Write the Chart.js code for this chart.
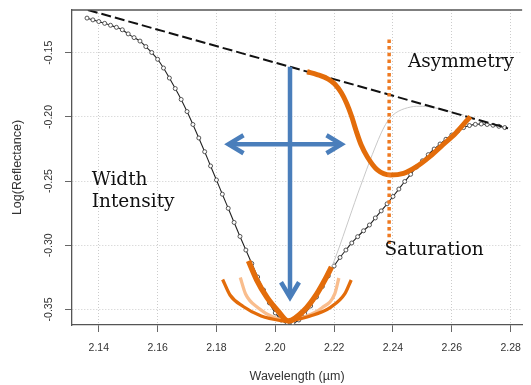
<!DOCTYPE html>
<html>
<head>
<meta charset="utf-8">
<script src="https://cdn.jsdelivr.net/npm/chart.js@4.4.1/dist/chart.umd.min.js"></script>
<style>
  body { margin: 0; background: #fff; }
</style>
</head>
<body>
<canvas id="spectrum-chart" width="531" height="385"></canvas>
<script>
// tick labels
var xTicks = [2.14, 2.16, 2.18, 2.20, 2.22, 2.24, 2.26, 2.28];
var yTicks = [-0.35, -0.30, -0.25, -0.20, -0.15];

// measured spectrum (circles + thin line)
var wavelength = [2.136, 2.138, 2.140, 2.142, 2.144, 2.146, 2.148, 2.150, 2.152, 2.154,
                  2.156, 2.158, 2.160, 2.162, 2.164, 2.166, 2.168, 2.170, 2.172, 2.174,
                  2.176, 2.178, 2.180, 2.182, 2.184, 2.186, 2.188, 2.190, 2.192, 2.194,
                  2.196, 2.198, 2.200, 2.202, 2.204, 2.206, 2.208, 2.210, 2.212, 2.214,
                  2.216, 2.218, 2.220, 2.222, 2.224, 2.226, 2.228, 2.230, 2.232, 2.234,
                  2.236, 2.238, 2.240, 2.242, 2.244, 2.246, 2.248, 2.250, 2.252, 2.254,
                  2.256, 2.258, 2.260, 2.262, 2.264, 2.266, 2.268, 2.270, 2.272, 2.274,
                  2.276, 2.278];
var reflectance = [-0.1230, -0.1244, -0.1257, -0.1271, -0.1286, -0.1302, -0.1321, -0.1353, -0.1382, -0.1409,
                   -0.1452, -0.1498, -0.1551, -0.1619, -0.1697, -0.1779, -0.1864, -0.1958, -0.2059, -0.2164,
                   -0.2271, -0.2382, -0.2491, -0.2602, -0.2712, -0.2822, -0.2931, -0.3037, -0.3142, -0.3247,
                   -0.3348, -0.3449, -0.3527, -0.3582, -0.3604, -0.3605, -0.3582, -0.3535, -0.3473, -0.3403,
                   -0.3321, -0.3239, -0.3161, -0.3095, -0.3037, -0.2982, -0.2933, -0.2887, -0.2842, -0.2787,
                   -0.2732, -0.2677, -0.2620, -0.2562, -0.2503, -0.2447, -0.2390, -0.2342, -0.2294, -0.2250,
                   -0.2211, -0.2174, -0.2141, -0.2110, -0.2083, -0.2067, -0.2058, -0.2055, -0.2059, -0.2065,
                   -0.2073, -0.2083];

// thin grey symmetric curve
var greyW = [2.218, 2.220, 2.222, 2.224, 2.226, 2.228, 2.230, 2.232, 2.234, 2.236, 2.238, 2.240,
             2.242, 2.244, 2.246, 2.248, 2.250, 2.252, 2.254, 2.256, 2.258, 2.260, 2.262, 2.264];
var greyR = [-0.3239, -0.3122, -0.2998, -0.2865, -0.2732, -0.2600, -0.2475, -0.2351, -0.2234, -0.2125, -0.2039, -0.1985,
             -0.1954, -0.1935, -0.1923, -0.1917, -0.1917, -0.1921, -0.1928, -0.1938, -0.1949, -0.1960, -0.1972, -0.1985];

// continuum (dashed)
var hullW = [2.1363, 2.2391, 2.2791];
var hullR = [-0.1167, -0.1829, -0.2089];

// asymmetry curve
var asymW = [2.2108, 2.2142, 2.2180, 2.2202, 2.2225, 2.2242, 2.2259, 2.2275, 2.2292,
             2.2313, 2.2347, 2.2391, 2.2436, 2.2480, 2.2525, 2.2569, 2.2613, 2.2663];
var asymR = [-0.1648, -0.1670, -0.1705, -0.1744, -0.1814, -0.1892, -0.1993, -0.2110, -0.2219,
             -0.2312, -0.2413, -0.2452, -0.2439, -0.2387, -0.2309, -0.2218, -0.2127, -0.1997];

// width curves at the band minimum
var narrowW = [2.1909, 2.1937, 2.1972, 2.2009, 2.2044, 2.2096, 2.2141, 2.2172, 2.2191];
var narrowR = [-0.3122, -0.3270, -0.3407, -0.3512, -0.3590, -0.3512, -0.3379, -0.3255, -0.3169];
var wideW = [2.1821, 2.1846, 2.1891, 2.1952, 2.2019, 2.2042, 2.2066, 2.2119, 2.2189, 2.2236, 2.2258];
var wideR = [-0.3266, -0.3387, -0.3477, -0.3551, -0.3586, -0.3590, -0.3582, -0.3551, -0.3481, -0.3379, -0.3270];
var midW = [2.1881, 2.1899, 2.1942, 2.1996, 2.2042, 2.2102, 2.2158, 2.2202, 2.2216];
var midR = [-0.3251, -0.3379, -0.3488, -0.3562, -0.3586, -0.3555, -0.3488, -0.3379, -0.3255];

// saturation marker
var satW = [2.2387, 2.2387];
var satR = [-0.1396, -0.2998];

// blue arrows: [start, tip]
var arrowDown = [[2.2050, -0.1609], [2.2050, -0.3405]];
var arrowBoth = [[2.1841, -0.2213], [2.2225, -0.2213]];

// annotations: text, wavelength, reflectance (baseline)
var notes = [
    ['Width', 2.1376, -0.2530],
    ['Intensity', 2.1376, -0.2699],
    ['Asymmetry', 2.2451, -0.1609],
    ['Saturation', 2.2371, -0.3079]
];

function pairs(xs, ys) {
    return xs.map(function (x, i) { return {x: x, y: ys[i]}; });
}

var ORANGE = '#E36C0A';
var PEACH = '#F9BD8D';
var BLUE = '#4A7EBB';

var frame = {
    id: 'frame',
    afterDraw: function (chart) {
	var a = chart.chartArea, ctx = chart.ctx;
	ctx.save();
	ctx.strokeStyle = '#555';
	ctx.lineWidth = 1.3;
	ctx.beginPath();
	ctx.moveTo(a.left, a.top);
	ctx.lineTo(a.right, a.top);
	ctx.stroke();
	// y tick labels, rotated like R does
	var ys = chart.scales.y;
	ctx.fillStyle = '#333';
	ctx.font = '10.5px "Liberation Sans", Arial, sans-serif';
	ctx.textAlign = 'center';
	ctx.textBaseline = 'middle';
	yTicks.forEach(function (v) {
	    ctx.save();
	    ctx.translate(49, ys.getPixelForValue(v));
	    ctx.rotate(-Math.PI / 2);
	    ctx.fillText(v.toFixed(2), 0, 0);
	    ctx.restore();
	});
	ctx.restore();
    }
};

var overlay = {
    id: 'overlay',
    afterDatasetsDraw: function (chart) {
	var xs = chart.scales.x, ys = chart.scales.y, ctx = chart.ctx;
	var px = function (p) { return [xs.getPixelForValue(p[0]), ys.getPixelForValue(p[1])]; };
	function head(tip, from) {
	    var ang = Math.atan2(tip[1] - from[1], tip[0] - from[0]);
	    var back = 15, side = 9;
	    var bx = tip[0] - back * Math.cos(ang), by = tip[1] - back * Math.sin(ang);
	    ctx.beginPath();
	    ctx.moveTo(bx - side * Math.sin(ang), by + side * Math.cos(ang));
	    ctx.lineTo(tip[0], tip[1]);
	    ctx.lineTo(bx + side * Math.sin(ang), by - side * Math.cos(ang));
	    ctx.stroke();
	}
	ctx.save();
	ctx.strokeStyle = BLUE;
	ctx.lineWidth = 4.5;
	ctx.lineJoin = 'miter';
	[arrowDown, arrowBoth].forEach(function (arr, k) {
	    var a = px(arr[0]), b = px(arr[1]);
	    ctx.beginPath();
	    ctx.moveTo(a[0], a[1]);
	    ctx.lineTo(b[0], b[1]);
	    ctx.stroke();
	    head(b, a);
	    if (k === 1) head(a, b);
	});
	ctx.fillStyle = '#111';
	ctx.font = '18.5px "DejaVu Serif", serif';
	ctx.textAlign = 'left';
	ctx.textBaseline = 'alphabetic';
	notes.forEach(function (n) {
	    var p = px([n[1], n[2]]);
	    ctx.fillText(n[0], p[0], p[1]);
	});
	ctx.restore();
    }
};

Chart.defaults.font.family = '"Liberation Sans", Arial, sans-serif';
Chart.defaults.color = '#333';

var chart = new Chart(document.getElementById('spectrum-chart'), {
    type: 'line',
    data: {
	datasets: [
	    {data: pairs(satW, satR), borderColor: '#EE7A22', borderWidth: 3.5, borderDash: [3.5, 3.2], pointRadius: 0, order: 1},
	    {data: pairs(asymW, asymR), borderColor: ORANGE, borderWidth: 5, cubicInterpolationMode: 'monotone', pointRadius: 0, order: 2},
	    {data: pairs(narrowW, narrowR), borderColor: ORANGE, borderWidth: 5.5, cubicInterpolationMode: 'monotone', pointRadius: 0, order: 3},
	    {data: pairs(wideW, wideR), borderColor: ORANGE, borderWidth: 3.3, cubicInterpolationMode: 'monotone', pointRadius: 0, order: 4},
	    {data: pairs(midW, midR), borderColor: PEACH, borderWidth: 3.3, cubicInterpolationMode: 'monotone', pointRadius: 0, order: 5},
	    {data: pairs(hullW, hullR), borderColor: '#111', borderWidth: 2, borderDash: [10, 4], pointRadius: 0, order: 6},
	    {data: pairs(greyW, greyR), borderColor: '#c8c8c8', borderWidth: 1, cubicInterpolationMode: 'monotone', pointRadius: 0, order: 7},
	    {data: pairs(wavelength, reflectance), borderColor: '#222', borderWidth: 1.1, cubicInterpolationMode: 'monotone',
	     pointRadius: 2, pointBorderWidth: 0.9, pointBorderColor: '#444', pointBackgroundColor: '#fff', order: 8}
	]
    },
    options: {
	responsive: false,
	animation: false,
	devicePixelRatio: 1,
	layout: {padding: {top: 10, left: 0, right: 0, bottom: 0}},
	plugins: {legend: {display: false}, tooltip: {enabled: false}},
	scales: {
	    x: {
		type: 'linear',
		min: 2.1309,
		max: 2.2839,
		afterBuildTicks: function (s) { s.ticks = xTicks.map(function (v) { return {value: v}; }); },
		afterFit: function (s) { s.height = 60; },
		ticks: {
		    callback: function (v) { return v.toFixed(2); },
		    font: {size: 10.5},
		    color: '#333',
		    padding: 10,
		    maxRotation: 0,
		    autoSkip: false
		},
		grid: {color: '#cccccc', tickColor: '#666', tickLength: 7},
		border: {color: '#555', width: 1.3, dash: [1, 2]},
		title: {display: true, text: 'Wavelength (\u00b5m)', font: {size: 12.5}, color: '#333', padding: {top: 0, bottom: 1}}
	    },
	    y: {
		min: -0.3621,
		max: -0.1167,
		afterBuildTicks: function (s) { s.ticks = yTicks.map(function (v) { return {value: v}; }); },
		afterFit: function (s) { s.width = 72; },
		ticks: {display: false},
		grid: {color: '#cccccc', tickColor: '#666', tickLength: 7},
		border: {color: '#555', width: 1.3, dash: [1, 2]},
		title: {display: true, text: 'Log(Reflectance)', font: {size: 12.5}, color: '#333', padding: {top: 10, bottom: 0}}
	    }
	}
    },
    plugins: [frame, overlay]
});
</script>
</body>
</html>
